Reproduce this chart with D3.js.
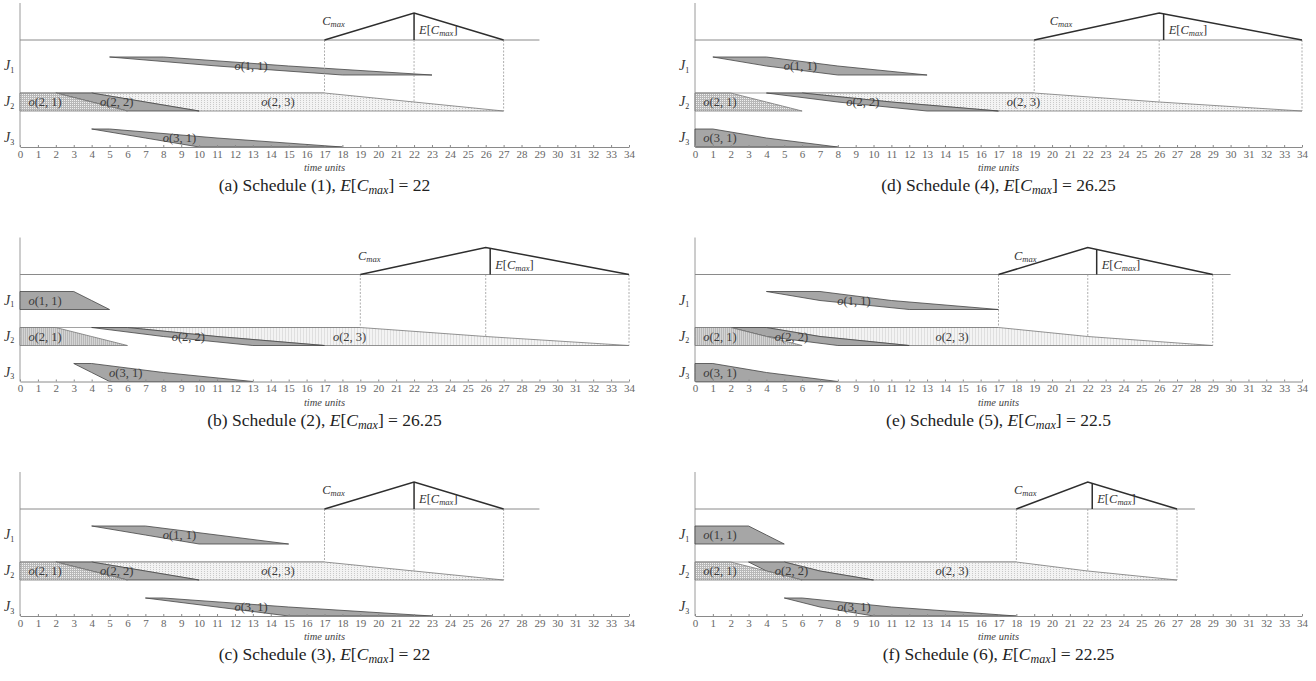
<!DOCTYPE html>
<html>
<head>
<meta charset="utf-8">
<script src="https://cdn.jsdelivr.net/npm/d3@7"></script>
<style>
  body { margin: 0; background: #fff; }
</style>
</head>
<body>
<div id="grafico"></div>
<script>
// datos
const paneles = ["a", "b", "c", "d", "e", "f"];
const numeroSchedule = [1, 2, 3, 4, 5, 6];
const esperanzaCmax = ["22", "26.25", "22", "26.25", "22.5", "22.25"];
const cmax = [[17, 22, 27], [19, 26, 34], [17, 22, 27], [19, 26, 34], [17, 22, 29], [18, 22, 27]];
const finLineaBase = [29, 34, 29, 34, 30, 28];
const etiquetaCmaxEn = [17.5, 19.5, 17.5, 20.5, 18.5, 18.5];
const trabajos = [1, 2, 3];
const operaciones = ["o(1, 1)", "o(2, 1)", "o(2, 2)", "o(2, 3)", "o(3, 1)"];
const trabajoDeOperacion = [1, 2, 2, 2, 3];
const relleno = ["gris", "denso", "gris", "punteado", "gris"];
// inicio y fin (numeros difusos triangulares) por schedule, en el orden de "operaciones"
const inicios = [
  [[5, 11, 18], [0, 0, 0], [2, 4, 6], [4, 7, 10], [4, 7, 10]],
  [[0, 0, 0], [0, 0, 0], [4, 8, 13], [6, 11, 17], [3, 4, 5]],
  [[4, 7, 10], [0, 0, 0], [2, 4, 6], [4, 7, 10], [7, 11, 15]],
  [[1, 4, 8], [0, 0, 0], [4, 8, 13], [6, 11, 17], [0, 0, 0]],
  [[4, 7, 12], [0, 0, 0], [2, 4, 8], [4, 7, 12], [0, 0, 0]],
  [[0, 0, 0], [0, 0, 0], [3, 4, 6], [5, 7, 10], [5, 7, 10]]
];
const finales = [
  [[8, 15, 23], [2, 4, 6], [4, 7, 10], [17, 22, 27], [5, 11, 18]],
  [[3, 4, 5], [2, 4, 6], [6, 11, 17], [19, 26, 34], [4, 8, 13]],
  [[7, 11, 15], [2, 4, 6], [4, 7, 10], [17, 22, 27], [8, 15, 23]],
  [[4, 8, 13], [2, 4, 6], [6, 11, 17], [19, 26, 34], [1, 4, 8]],
  [[7, 11, 17], [2, 4, 6], [4, 7, 12], [17, 22, 29], [1, 4, 8]],
  [[3, 4, 5], [2, 4, 6], [5, 7, 10], [18, 22, 27], [6, 11, 18]]
];
const marcas = d3.range(0, 35);

const fuente = "'Liberation Serif', 'DejaVu Serif', serif";
const columnas = [[20, 629], [695, 1302]];
const altoFila = 234.5;
const ejeArriba = 3, lineaBase = 40, pico = 13, ejeAbajo = 147;
const medioAlto = 9;
const etiquetaInicial = 1.4;
const ordenDibujo = [3, 2, 1, 0, 4];

const svg = d3.select("#grafico").append("svg")
  .attr("width", 1316)
  .attr("height", 681)
  .style("background", "#fff");

const defs = svg.append("defs");
const patDenso = defs.append("pattern")
  .attr("id", "denso").attr("patternUnits", "userSpaceOnUse")
  .attr("width", 2).attr("height", 2);
patDenso.append("rect").attr("width", 2).attr("height", 2).attr("fill", "#b8b8b8");
patDenso.append("rect").attr("width", 1).attr("height", 1).attr("fill", "#f0f0f0");
const patPunto = defs.append("pattern")
  .attr("id", "punteado").attr("patternUnits", "userSpaceOnUse")
  .attr("width", 3).attr("height", 2);
patPunto.append("rect").attr("width", 3).attr("height", 2).attr("fill", "#f3f3f3");
patPunto.append("rect").attr("width", 1).attr("height", 1).attr("fill", "#cacaca");

const colorRelleno = r => r === "gris" ? "#a6a6a6" : `url(#${r})`;
const colorBorde = r => r === "gris" ? "#454545" : "#777";

paneles.forEach((id, i) => {
  const col = Math.floor(i / 3), fila = i % 3;
  const x = d3.scaleLinear().domain([0, 34]).range(columnas[col]);
  const y = d3.scalePoint().domain(trabajos).range([66, 138]);
  const g = svg.append("g").attr("transform", `translate(0,${fila * altoFila})`);
  const [c1, c2, c3] = cmax[i];

  // eje vertical
  g.append("line")
    .attr("x1", x(0)).attr("x2", x(0))
    .attr("y1", ejeArriba).attr("y2", ejeAbajo)
    .attr("stroke", "#9a9a9a").attr("stroke-width", 1);

  // linea base del Cmax
  g.append("line")
    .attr("x1", x(0)).attr("x2", x(finLineaBase[i]))
    .attr("y1", lineaBase).attr("y2", lineaBase)
    .attr("stroke", "#8a8a8a").attr("stroke-width", 1);

  // borde superior de la fila J2 (une las tres operaciones)
  g.append("line")
    .attr("x1", x(0)).attr("x2", x(finales[i][3][0]))
    .attr("y1", y(2) - medioAlto).attr("y2", y(2) - medioAlto)
    .attr("stroke", "#8a8a8a").attr("stroke-width", 0.8);

  // operaciones
  ordenDibujo.forEach(k => {
    const s = inicios[i][k], e = finales[i][k];
    const yc = y(trabajoDeOperacion[k]);
    const puntos = [[s[0], -1], [e[0], -1], [e[1], 0], [e[2], 1], [s[2], 1], [s[1], 0]]
      .map(([t, f]) => [x(t), yc + f * medioAlto]);
    g.append("path")
      .attr("d", d3.line()(puntos) + "Z")
      .attr("fill", colorRelleno(relleno[k]))
      .attr("stroke", colorBorde(relleno[k]))
      .attr("stroke-width", 0.8)
      .attr("stroke-linejoin", "round");
  });

  // lineas punteadas desde el Cmax hasta o(2,3)
  const y2 = y(2);
  [[c1, y2 - medioAlto], [c2, y2], [c3, y2 + medioAlto]].forEach(([t, yy]) => {
    g.append("line")
      .attr("x1", x(t)).attr("x2", x(t))
      .attr("y1", lineaBase).attr("y2", yy)
      .attr("stroke", "#999").attr("stroke-width", 0.8)
      .attr("stroke-dasharray", "2,1.5");
  });

  // triangulo Cmax
  g.append("path")
    .attr("d", d3.line()([[x(c1), lineaBase], [x(c2), pico], [x(c3), lineaBase]]))
    .attr("fill", "none")
    .attr("stroke", "#2e2e2e")
    .attr("stroke-width", 1.5);

  // E[Cmax]
  const ev = +esperanzaCmax[i];
  const yE = ev >= c2
    ? pico + (ev - c2) / (c3 - c2) * (lineaBase - pico)
    : pico + (c2 - ev) / (c2 - c1) * (lineaBase - pico);
  g.append("line")
    .attr("x1", x(ev)).attr("x2", x(ev))
    .attr("y1", lineaBase).attr("y2", yE)
    .attr("stroke", "#2e2e2e").attr("stroke-width", 1.5);

  const tE = g.append("text")
    .attr("x", x(ev) + 5).attr("y", 34)
    .attr("font-family", fuente).attr("font-size", 12.5).attr("fill", "#333");
  tE.append("tspan").attr("font-style", "italic").text("E");
  tE.append("tspan").text("[");
  tE.append("tspan").attr("font-style", "italic").text("C");
  tE.append("tspan").attr("font-style", "italic").attr("font-size", 8.5).attr("dy", 2).text("max");
  tE.append("tspan").attr("dy", -2).text("]");

  const tC = g.append("text")
    .attr("x", x(etiquetaCmaxEn[i])).attr("y", 25)
    .attr("text-anchor", "middle")
    .attr("font-family", fuente).attr("font-size", 12.5).attr("fill", "#333");
  tC.append("tspan").attr("font-style", "italic").text("C");
  tC.append("tspan").attr("font-style", "italic").attr("font-size", 8.5).attr("dy", 2).text("max");

  // etiquetas de operaciones
  operaciones.forEach((nombre, k) => {
    const s = inicios[i][k], e = finales[i][k];
    const cx = s[2] === 0 ? etiquetaInicial : (s[1] + e[1]) / 2 - 0.1;
    const t = g.append("text")
      .attr("x", x(cx)).attr("y", y(trabajoDeOperacion[k]) + 4)
      .attr("text-anchor", "middle")
      .attr("font-family", fuente).attr("font-size", 12.5).attr("fill", "#3a3a3a");
    t.append("tspan").attr("font-style", "italic").text("o");
    t.append("tspan").text(nombre.slice(1));
  });

  // etiquetas de trabajos
  trabajos.forEach(j => {
    const t = g.append("text")
      .attr("x", x(0) - 16).attr("y", y(j) + 4)
      .attr("font-family", fuente).attr("font-size", 14).attr("fill", "#333");
    t.append("tspan").attr("font-style", "italic").text("J");
    t.append("tspan").attr("font-size", 8).attr("dy", 2.5).text(j);
  });

  // eje del tiempo
  const eje = g.append("g")
    .attr("transform", `translate(0,${ejeAbajo})`)
    .call(d3.axisBottom(x).tickValues(marcas).tickSizeInner(-2).tickSizeOuter(0).tickPadding(3));
  eje.select(".domain").attr("stroke", "#8a8a8a");
  eje.selectAll(".tick line").attr("stroke", "#8a8a8a");
  eje.selectAll(".tick text")
    .attr("font-family", fuente).attr("font-size", 11).attr("fill", "#666");

  g.append("text")
    .attr("x", x(17)).attr("y", 171)
    .attr("text-anchor", "middle")
    .attr("font-family", fuente).attr("font-size", 10.5).attr("font-style", "italic")
    .attr("fill", "#444")
    .text("time units");

  // pie
  const pie = g.append("text")
    .attr("x", x(17)).attr("y", 191)
    .attr("text-anchor", "middle")
    .attr("font-family", fuente).attr("font-size", 17.5).attr("fill", "#222");
  pie.append("tspan").text(`(${id}) Schedule (${numeroSchedule[i]}), `);
  pie.append("tspan").attr("font-style", "italic").text("E");
  pie.append("tspan").text("[");
  pie.append("tspan").attr("font-style", "italic").text("C");
  pie.append("tspan").attr("font-style", "italic").attr("font-size", 12).attr("dy", 3).text("max");
  pie.append("tspan").attr("dy", -3).text(`] = ${esperanzaCmax[i]}`);
});
</script>
</body>
</html>
